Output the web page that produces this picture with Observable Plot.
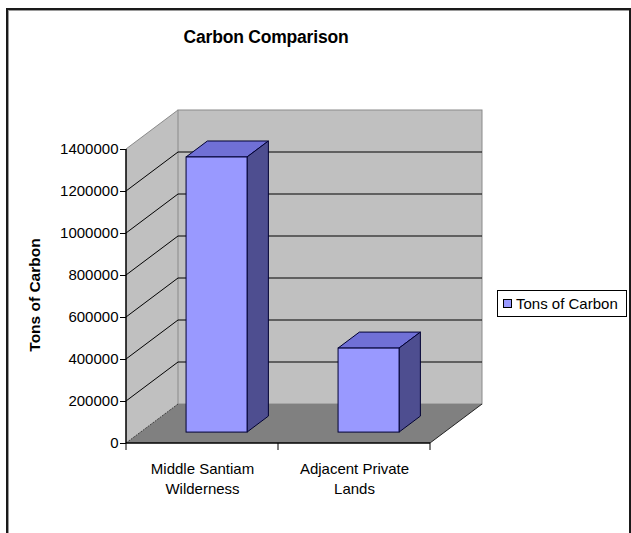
<!DOCTYPE html>
<html>
<head>
<meta charset="utf-8">
<script src="https://cdn.jsdelivr.net/npm/d3@7"></script>
<script src="https://cdn.jsdelivr.net/npm/@observablehq/plot@0.6"></script>
<style>
  html, body { margin: 0; padding: 0; background: #fff; }
  #wrap { position: relative; width: 631px; height: 533px; overflow: hidden; font-family: "Liberation Sans", Arial, sans-serif; }
  #frame { position: absolute; left: 6px; top: 8px; width: 621px; height: 540px; border: 2px solid #1a1a1a; box-shadow: 1px 1px 0 #9a9a9a inset; }
  #chart { position: absolute; left: 0; top: 0; }
  #title { position: absolute; left: 266px; top: 27px; transform: translateX(-50%); font-weight: bold; font-size: 17.5px; letter-spacing: -0.2px; white-space: nowrap; color: #000; }
  #ylabel { position: absolute; left: 35px; top: 295px; transform: translate(-50%, -50%) rotate(-90deg); font-weight: bold; font-size: 15.5px; white-space: nowrap; color: #000; }
  #legend { position: absolute; left: 497px; top: 290px; width: 128px; height: 25px; border: 1px solid #000; background: #fff; font-size: 15px; display: flex; align-items: center; white-space: nowrap; }
  #legend .sw { width: 7px; height: 7px; border: 1px solid #000; background: #9999ff; margin: 0 4px 0 5px; }
</style>
</head>
<body>
<div id="wrap">
  <div id="frame"></div>
  <div id="chart"></div>
  <div id="title"></div>
  <div id="ylabel"></div>
  <div id="legend"><span class="sw"></span><span id="legtext"></span></div>
</div>
<script>
// ---- data ----
const chartTitle = "Carbon Comparison";
const yAxisTitle = "Tons of Carbon";
const seriesName = "Tons of Carbon";
const categories = ["Middle Santiam Wilderness", "Adjacent Private Lands"];
const categoryLabels = ["Middle Santiam\nWilderness", "Adjacent Private\nLands"];
const tonsOfCarbon = [1310000, 400000];
const yTicks = [0, 200000, 400000, 600000, 800000, 1000000, 1200000, 1400000];

const rows = categories.map((c, i) => ({category: c, value: tonsOfCarbon[i]}));

// ---- 3D styling ----
const DEPTH = [52, -39];                 // pixel offset of the back plane
const BAR_FRONT = 0.28, BAR_BACK = 0.69; // bar depth fractions
const BAR_INSET = 45.5;
const COL = {wall: "#c0c0c0", floor: "#808080", edge: "#8a8a8a", grid: "#000",
             front: "#9999ff", top: "#7070d6", side: "#4e4e90", outline: "#000033"};

function bw(x) { return typeof x.bandwidth === "function" ? x.bandwidth() : (x.bandwidth ?? 0); }

function scene(index, scales, values, dim) {
  const x = scales.x, y = scales.y;
  const x0 = dim.marginLeft, x1 = dim.width - dim.marginRight;
  const y0 = y(yTicks[0]), yT = y(yTicks[yTicks.length - 1]);
  const [dx, dy] = DEPTH;
  const g = d3.create("svg:g");
  // side wall
  g.append("path").attr("d", `M${x0},${y0}L${x0},${yT}L${x0+dx},${yT+dy}L${x0+dx},${y0+dy}Z`).attr("fill", COL.wall);
  // back wall
  g.append("rect").attr("x", x0 + dx).attr("y", yT + dy).attr("width", x1 - x0).attr("height", y0 - yT)
    .attr("fill", COL.wall).attr("stroke", COL.edge);
  // floor
  g.append("path").attr("d", `M${x0},${y0}L${x1},${y0}L${x1+dx},${y0+dy}L${x0+dx},${y0+dy}Z`).attr("fill", COL.floor);
  // gridlines (side wall diagonal + back wall horizontal)
  for (const t of yTicks.slice(1, -1)) {
    const yy = y(t);
    g.append("path").attr("d", `M${x0},${yy}L${x0+dx},${yy+dy}L${x1+dx},${yy+dy}`)
      .attr("fill", "none").attr("stroke", COL.grid).attr("stroke-width", 1);
  }
  g.append("path").attr("d", `M${x0},${yT}L${x0+dx},${yT+dy}`).attr("stroke", COL.edge).attr("fill", "none");
  g.append("path").attr("d", `M${x0},${y0}L${x0+dx},${y0+dy}`).attr("stroke", "#222").attr("stroke-width", 0.8).attr("stroke-dasharray", "2,1");
  g.append("path").attr("d", `M${x1},${y0}L${x1+dx},${y0+dy}`).attr("stroke", "#222").attr("stroke-width", 1);
  // axis lines
  g.append("path").attr("d", `M${x0},${yT}L${x0},${y0}L${x1},${y0}`).attr("fill", "none").attr("stroke", "#000").attr("stroke-width", 1.5);
  // category boundary ticks
  const edges = categories.map(c => x(c)).concat([x(categories[categories.length - 1]) + bw(x)]);
  for (const e of edges) g.append("line").attr("x1", e).attr("x2", e).attr("y1", y0).attr("y2", y0 + 7).attr("stroke", "#000");
  // bar top & side faces
  const fx = dx * BAR_FRONT, fy = dy * BAR_FRONT;
  const ddx = dx * (BAR_BACK - BAR_FRONT), ddy = dy * (BAR_BACK - BAR_FRONT);
  for (const r of rows) {
    const xl = x(r.category) + BAR_INSET + fx, xr = x(r.category) + bw(x) - BAR_INSET + fx;
    const yt = y(r.value) + fy, yb = y(0) + fy;
    g.append("path").attr("d", `M${xl},${yt}L${xr},${yt}L${xr+ddx},${yt+ddy}L${xl+ddx},${yt+ddy}Z`)
      .attr("fill", COL.top).attr("stroke", COL.outline).attr("stroke-linejoin", "round");
    g.append("path").attr("d", `M${xr},${yt}L${xr+ddx},${yt+ddy}L${xr+ddx},${yb+ddy}L${xr},${yb}Z`)
      .attr("fill", COL.side).attr("stroke", COL.outline).attr("stroke-linejoin", "round");
  }
  return g.node();
}

const chart = Plot.plot({
  width: 631,
  height: 533,
  marginLeft: 126,
  marginRight: 201,
  marginTop: 149,
  marginBottom: 90,
  style: {fontFamily: "'Liberation Sans', Arial, sans-serif", fontSize: "15px", color: "#000", background: "transparent", overflow: "visible"},
  x: {type: "band", domain: categories, padding: 0, axis: null},
  y: {domain: [yTicks[0], yTicks[yTicks.length - 1]], axis: null},
  marks: [
    scene,
    Plot.barY(rows, {x: "category", y: "value", fill: COL.front, stroke: COL.outline,
      insetLeft: BAR_INSET, insetRight: BAR_INSET, dx: DEPTH[0] * BAR_FRONT, dy: DEPTH[1] * BAR_FRONT}),
    Plot.axisY({ticks: yTicks, tickFormat: d => String(d), tickSize: 6, tickPadding: 2, fontSize: 15, label: null, stroke: "#000"}),
    Plot.axisX({tickSize: 0, tickPadding: 16, fontSize: 15, lineHeight: 1.33, label: null,
      tickFormat: d => categoryLabels[categories.indexOf(d)]})
  ]
});
document.getElementById("chart").appendChild(chart);
document.getElementById("title").textContent = chartTitle;
document.getElementById("ylabel").textContent = yAxisTitle;
document.getElementById("legtext").textContent = seriesName;
</script>
</body>
</html>
